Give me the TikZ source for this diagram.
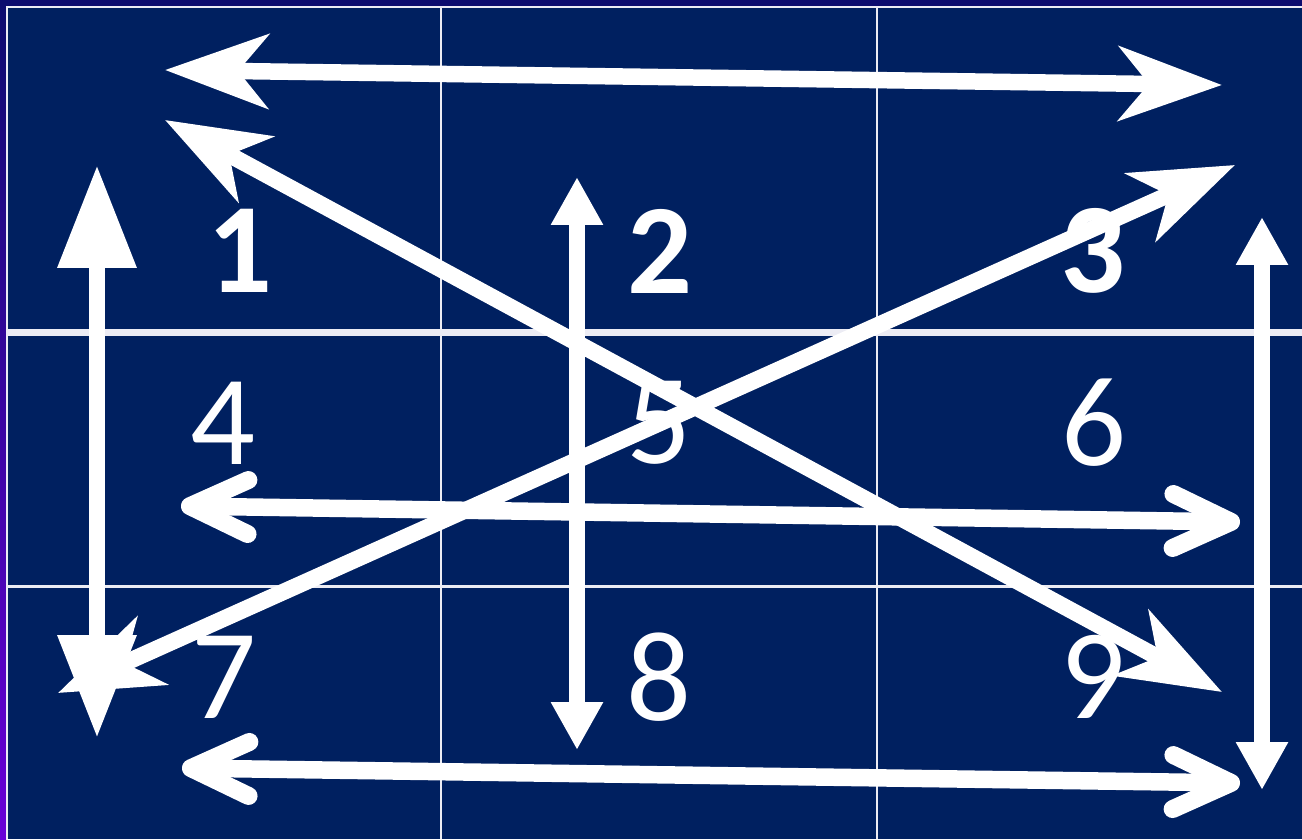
\documentclass[tikz,border=0pt]{standalone}
\usepackage{fontspec}
\setmainfont{Carlito}
\usetikzlibrary{arrows.meta}
\definecolor{slide}{RGB}{0,32,96}
\definecolor{rim}{RGB}{12,12,110}
\definecolor{rimviolet}{RGB}{105,0,215}
\definecolor{rule}{RGB}{236,236,244}

\begin{document}
\begin{tikzpicture}[x=0.02cm,y=-0.02cm,
  digit/.style={white,inner sep=0pt,font=\fontsize{73}{73}\selectfont},
  boldigit/.style={white,inner sep=0pt,font=\fontsize{73}{73}\selectfont\bfseries},
  shaft/.style={white,line width=0.33cm},
  dart/.style={shaft,arrows={Stealth[length=2.06cm,width=1.48cm,inset=0.6cm]-Stealth[length=2.06cm,width=1.48cm,inset=0.6cm]}},
  bigpost/.style={shaft,arrows={Triangle[length=2.06cm,width=1.5cm]-Triangle[length=2.06cm,width=1.5cm]}},
  post/.style={shaft,arrows={Triangle[length=0.96cm,width=0.98cm]-Triangle[length=0.96cm,width=0.98cm]}},
  chevron/.style={shaft,line width=0.35cm,arrows={Straight Barb[length=1.16cm,width=1.08cm,line width=0.36cm,round]-Straight Barb[length=1.16cm,width=1.08cm,line width=0.36cm,round]}}]
\useasboundingbox (0,0) rectangle (1302,839);
% slide background and frame
\fill[rim] (0,0) rectangle (1302,839);
\shade[top color=rim,bottom color=rimviolet] (0,0) rectangle (6,839);
\fill[slide] (7,7) rectangle (1302,839);
\draw[rule,line width=0.04cm] (7,839) -- (7,7) -- (1302,7);
% grid
\draw[rule,line width=0.05cm] (441,7) -- (441,839) (877,7) -- (877,839);
\draw[rule,line width=0.14cm] (7,332) -- (1302,332);
\draw[rule,line width=0.06cm] (7,586) -- (1302,586);
% numbers
\node[boldigit] (n1) at (240,251) {1};
\node[boldigit] (n2) at (660,251) {2};
\node[boldigit] (n3) at (1093,251) {3};
\node[digit] (n4) at (223,423) {4};
\node[digit] (n5) at (659,423) {5};
\node[digit] (n6) at (1094,423) {6};
\node[digit] (n7) at (224,677) {7};
\node[digit] (n8) at (659,677) {8};
\node[digit] (n9) at (1093,677) {9};
% arrow ends
\coordinate (topL) at (165,70);      \coordinate (topR) at (1222,85);
\coordinate (diagNW) at (165,120);   \coordinate (diagSE) at (1222,692);
\coordinate (diagSW) at (58,693);    \coordinate (diagNE) at (1235,165);
\coordinate (leftT) at (97,165);     \coordinate (leftB) at (97,738);
\coordinate (midT) at (577,177);     \coordinate (midB) at (577,750);
\coordinate (rightT) at (1262,217);  \coordinate (rightB) at (1262,790);
\coordinate (rowL) at (181,506);     \coordinate (rowR) at (1240,522);
\coordinate (lowL) at (182,768);     \coordinate (lowR) at (1240,783);
% arrows
\draw[bigpost] (leftT) -- (leftB);
\draw[post] (midT) -- (midB);
\draw[post] (rightT) -- (rightB);
\draw[chevron] (rowL) -- (rowR);
\draw[chevron] (lowL) -- (lowR);
\draw[dart] (topL) -- (topR);
\draw[dart] (diagNW) -- (diagSE);
\draw[dart] (diagSW) -- (diagNE);
\end{tikzpicture}
\end{document}
